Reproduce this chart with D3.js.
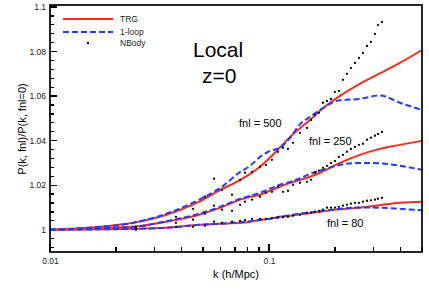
<!DOCTYPE html>
<html>
<head>
<meta charset="utf-8">
<script src="https://cdn.jsdelivr.net/npm/d3@7"></script>
<style>
  html, body { margin: 0; padding: 0; background: #fff; }
  svg { display: block; font-family: "Liberation Sans", Arial, sans-serif; }
  .tick text { fill: #222; }
</style>
</head>
<body>
<svg id="chart" width="429" height="303"></svg>
<script>
// k grid used by the theory curves
const kGrid = [0.01, 0.017, 0.024, 0.034, 0.048, 0.06, 0.074, 0.082, 0.091, 0.101,
  0.112, 0.125, 0.139, 0.154, 0.171, 0.211, 0.26, 0.321, 0.396, 0.5];

const trg500 = [1.0, 1.0013, 1.0031, 1.0067, 1.0126, 1.0179, 1.0224, 1.0251, 1.0283, 1.0323,
  1.0368, 1.0417, 1.0457, 1.0493, 1.0534, 1.0601, 1.0655, 1.0702, 1.0749, 1.0807];
const loop500 = [1.0, 1.0013, 1.0031, 1.0072, 1.0135, 1.0188, 1.026, 1.0287, 1.0327, 1.0354,
  1.0368, 1.0413, 1.0475, 1.0507, 1.0538, 1.0581, 1.0587, 1.0603, 1.057, 1.0538];

const trg250 = [1.0, 1.0007, 1.0013, 1.0036, 1.0067, 1.0099, 1.0135, 1.0148, 1.0157, 1.0175,
  1.0193, 1.0211, 1.0224, 1.0238, 1.0256, 1.03, 1.0336, 1.0363, 1.0381, 1.0399];
const loop250 = [1.0, 1.0007, 1.0013, 1.0038, 1.0072, 1.0103, 1.0139, 1.0152, 1.0166, 1.0184,
  1.0202, 1.0215, 1.0231, 1.0251, 1.0265, 1.0291, 1.03, 1.0298, 1.0287, 1.0269];

const trg80 = [1.0, 1.0002, 1.0004, 1.0009, 1.0022, 1.0027, 1.0031, 1.0036, 1.0043, 1.0049,
  1.0058, 1.0063, 1.007, 1.0074, 1.0081, 1.0092, 1.0099, 1.011, 1.0121, 1.0126];
const loop80 = [1.0, 1.0002, 1.0004, 1.0009, 1.0022, 1.0027, 1.0034, 1.0038, 1.0045, 1.0049,
  1.0058, 1.0065, 1.0072, 1.0078, 1.0083, 1.0094, 1.01, 1.0099, 1.0094, 1.0087];

// N-body measurements
const nbK = [0.0247, 0.0376, 0.045, 0.051, 0.0561, 0.061, 0.0678, 0.0738, 0.0777, 0.0837,
  0.091, 0.0969, 0.1032, 0.1099, 0.1159, 0.1221, 0.1287, 0.1385, 0.1491, 0.1555,
  0.1622, 0.1691, 0.1764, 0.184, 0.1919, 0.2001, 0.2087, 0.2177, 0.2271, 0.2368,
  0.247, 0.2576, 0.2687, 0.2802, 0.2922, 0.3048, 0.3145, 0.3281];
const nb500 = [1.0013, 1.0058, 1.0094, 1.0148, 1.0229, 1.0179, 1.0157, 1.0224, 1.0256, 1.026,
  1.0283, 1.0291, 1.0314, 1.035, 1.0368, 1.0363, 1.039, 1.0435, 1.0457, 1.0493,
  1.0516, 1.0525, 1.057, 1.0578, 1.0587, 1.0619, 1.0623, 1.0673, 1.07, 1.0726,
  1.0749, 1.0771, 1.0794, 1.0825, 1.0843, 1.0879, 1.0919, 1.0933];
const nb250 = [1.0004, 1.0031, 1.0045, 1.0072, 1.0108, 1.009, 1.0085, 1.0112, 1.0126, 1.0135,
  1.0148, 1.0166, 1.017, 1.0193, 1.017, 1.0175, 1.0202, 1.0211, 1.0215, 1.0224,
  1.0256, 1.0265, 1.0278, 1.0287, 1.03, 1.0309, 1.0327, 1.0336, 1.035, 1.0363,
  1.0372, 1.0381, 1.0386, 1.0404, 1.0413, 1.0422, 1.043, 1.0439];
const nb80 = [1.0, 1.0013, 1.0013, 1.0018, 1.0036, 1.0031, 1.0036, 1.004, 1.0043, 1.0049,
  1.0049, 1.0049, 1.0052, 1.0054, 1.0056, 1.0058, 1.0063, 1.0067, 1.0076, 1.0076,
  1.0081, 1.0085, 1.009, 1.0099, 1.0099, 1.0099, 1.0103, 1.0108, 1.0112, 1.0117,
  1.0121, 1.0121, 1.0126, 1.013, 1.0132, 1.0135, 1.0139, 1.0143];

const xMajor = [0.01, 0.1];
const yMajor = [1, 1.02, 1.04, 1.06, 1.08, 1.1];

const RED = "#ff2a1a";
const BLUE = "#1f3dff";

const svg = d3.select("#chart");
const mLeft = 50, mRight = 422, mTop = 7, mBottom = 252;

const x = d3.scaleLog().domain([0.01, 0.5]).range([mLeft, mRight]);
const y = d3.scaleLinear().domain([0.99, 1.1]).range([mBottom, mTop]);

// minor ticks
const xMinor = [];
[0.01, 0.1].forEach((d) => {
  for (let m = 2; m <= 9; m++) {
    const v = d * m;
    if (v <= 0.5) xMinor.push(v);
  }
});
const yMinor = d3.range(0, 28).map((i) => +(0.992 + i * 0.004).toFixed(3))
  .filter((v) => !yMajor.some((m) => Math.abs(m - v) < 1e-6));

// tick labels from d3 axes
svg.append("g")
  .attr("transform", `translate(0,${mBottom})`)
  .call(d3.axisBottom(x).tickValues(xMajor).tickSize(0).tickPadding(6)
    .tickFormat((d) => d === 0.01 ? "0.01" : "0.1"))
  .call((g) => g.select(".domain").remove())
  .call((g) => g.selectAll("text").attr("font-size", 8.5).attr("font-family", null));
svg.append("g")
  .attr("transform", `translate(${mLeft},0)`)
  .call(d3.axisLeft(y).tickValues(yMajor).tickSize(0).tickPadding(4)
    .tickFormat((d) => String(d)))
  .call((g) => g.select(".domain").remove())
  .call((g) => g.selectAll("text").attr("font-size", 8.5).attr("font-family", null));

// inward tick marks
const ticks = svg.append("g").attr("stroke", "#000").attr("stroke-width", 1.3)
  .attr("shape-rendering", "crispEdges");
ticks.selectAll(".xt")
  .data(xMinor.map((d) => [d, 5]).concat(xMajor.map((d) => [d, 8])))
  .join("line")
  .attr("x1", (d) => x(d[0])).attr("x2", (d) => x(d[0]))
  .attr("y1", mBottom).attr("y2", (d) => mBottom - d[1]);
ticks.selectAll(".yt")
  .data(yMinor.map((d) => [d, 4]).concat(yMajor.map((d) => [d, 7])))
  .join("line")
  .attr("y1", (d) => y(d[0])).attr("y2", (d) => y(d[0]))
  .attr("x1", mLeft).attr("x2", (d) => mLeft + d[1]);

const line = d3.line()
  .x((d) => x(d[0]))
  .y((d) => y(d[1]))
  .curve(d3.curveMonotoneX);

const plot = svg.append("g");

[trg80, trg250, trg500].forEach((vals) => {
  plot.append("path")
    .attr("d", line(kGrid.map((k, i) => [k, vals[i]])))
    .attr("fill", "none")
    .attr("stroke", RED)
    .attr("stroke-width", 2);
});

[loop80, loop250, loop500].forEach((vals) => {
  plot.append("path")
    .attr("d", line(kGrid.map((k, i) => [k, vals[i]])))
    .attr("fill", "none")
    .attr("stroke", BLUE)
    .attr("stroke-width", 2)
    .attr("stroke-dasharray", "6,3");
});

[nb80, nb250, nb500].forEach((vals) => {
  plot.append("g")
    .selectAll("circle")
    .data(nbK.map((k, i) => [k, vals[i]]))
    .join("circle")
    .attr("cx", (d) => x(d[0]))
    .attr("cy", (d) => y(d[1]))
    .attr("r", 1.15)
    .attr("fill", "#000");
});

// frame
svg.append("rect")
  .attr("x", mLeft).attr("y", mTop - 2)
  .attr("width", mRight - mLeft).attr("height", mBottom - mTop + 2)
  .attr("fill", "none")
  .attr("stroke", "#000")
  .attr("stroke-width", 1.7);

// legend
const legend = svg.append("g").attr("font-size", 8.5).attr("fill", "#222");
legend.append("line").attr("x1", 63).attr("x2", 113).attr("y1", 19).attr("y2", 19)
  .attr("stroke", RED).attr("stroke-width", 2);
legend.append("text").attr("x", 120).attr("y", 22).text("TRG");
legend.append("line").attr("x1", 63).attr("x2", 113).attr("y1", 32).attr("y2", 32)
  .attr("stroke", BLUE).attr("stroke-width", 2).attr("stroke-dasharray", "6,3");
legend.append("text").attr("x", 120).attr("y", 35).text("1-loop");
legend.append("circle").attr("cx", 88).attr("cy", 43).attr("r", 1.15).attr("fill", "#000");
legend.append("text").attr("x", 120).attr("y", 46).text("NBody");

// annotations
svg.append("text").attr("x", 193).attr("y", 57).attr("font-size", 21).text("Local");
svg.append("text").attr("x", 202).attr("y", 83).attr("font-size", 21).text("z=0");
svg.append("text").attr("x", 239).attr("y", 127).attr("font-size", 11).text("fnl = 500");
svg.append("text").attr("x", 309).attr("y", 145).attr("font-size", 11).text("fnl = 250");
svg.append("text").attr("x", 327).attr("y", 227).attr("font-size", 11).text("fnl = 80");

// axis titles
svg.append("text").attr("x", (mLeft + mRight) / 2).attr("y", 278)
  .attr("text-anchor", "middle").attr("font-size", 11).text("k (h/Mpc)");
svg.append("text")
  .attr("transform", `translate(26,129) rotate(-90)`)
  .attr("text-anchor", "middle").attr("font-size", 11)
  .text("P(k, fnl)/P(k, fnl=0)");
</script>
</body>
</html>
